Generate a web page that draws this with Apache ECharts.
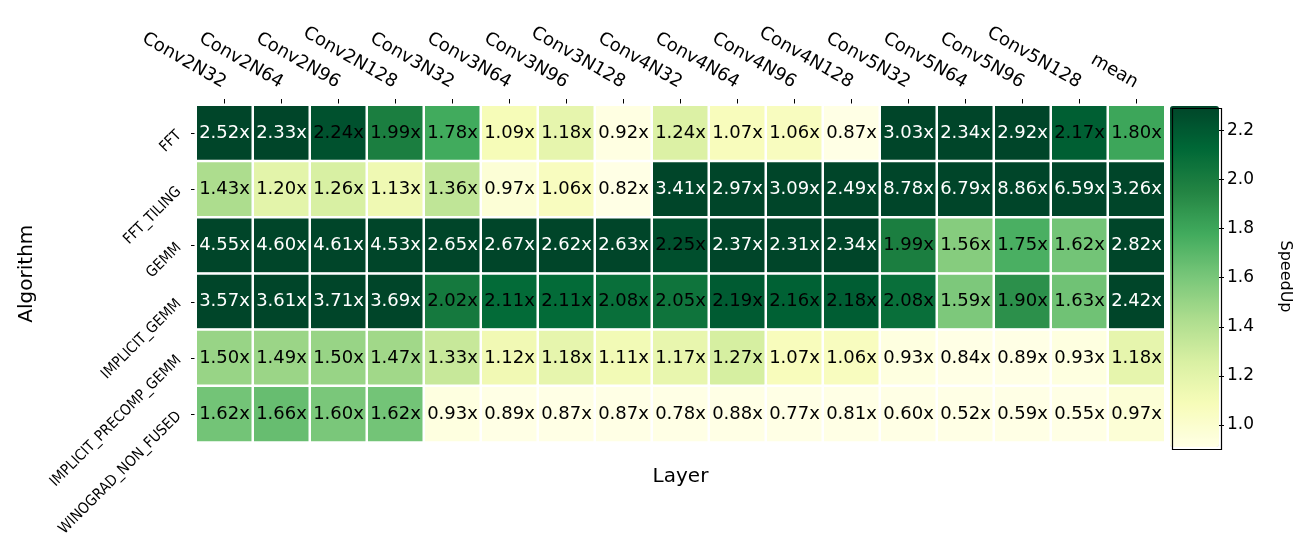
<!DOCTYPE html>
<html>
<head>
<meta charset="utf-8">
<title>SpeedUp heatmap</title>
<script src="https://cdn.jsdelivr.net/npm/echarts@6/dist/echarts.min.js"></script>
<style>
  html, body { margin: 0; padding: 0; background: #fff; }
  #chart { width: 1301px; height: 539px; }
</style>
</head>
<body>
<div id="chart"></div>
<script>
// Layers (columns) and algorithms (rows)
const layers = ['Conv2N32', 'Conv2N64', 'Conv2N96', 'Conv2N128',
  'Conv3N32', 'Conv3N64', 'Conv3N96', 'Conv3N128',
  'Conv4N32', 'Conv4N64', 'Conv4N96', 'Conv4N128',
  'Conv5N32', 'Conv5N64', 'Conv5N96', 'Conv5N128', 'mean'];
const algorithms = ['FFT', 'FFT_TILING', 'GEMM', 'IMPLICIT_GEMM',
  'IMPLICIT_PRECOMP_GEMM', 'WINOGRAD_NON_FUSED'];

// Speed-up per algorithm, one value per layer
const fft =                 [2.52, 2.33, 2.24, 1.99, 1.78, 1.09, 1.18, 0.92, 1.24, 1.07, 1.06, 0.87, 3.03, 2.34, 2.92, 2.17, 1.80];
const fftTiling =           [1.43, 1.20, 1.26, 1.13, 1.36, 0.97, 1.06, 0.82, 3.41, 2.97, 3.09, 2.49, 8.78, 6.79, 8.86, 6.59, 3.26];
const gemm =                [4.55, 4.60, 4.61, 4.53, 2.65, 2.67, 2.62, 2.63, 2.25, 2.37, 2.31, 2.34, 1.99, 1.56, 1.75, 1.62, 2.82];
const implicitGemm =        [3.57, 3.61, 3.71, 3.69, 2.02, 2.11, 2.11, 2.08, 2.05, 2.19, 2.16, 2.18, 2.08, 1.59, 1.90, 1.63, 2.42];
const implicitPrecompGemm = [1.50, 1.49, 1.50, 1.47, 1.33, 1.12, 1.18, 1.11, 1.17, 1.27, 1.07, 1.06, 0.93, 0.84, 0.89, 0.93, 1.18];
const winogradNonFused =    [1.62, 1.66, 1.60, 1.62, 0.93, 0.89, 0.87, 0.87, 0.78, 0.88, 0.77, 0.81, 0.60, 0.52, 0.59, 0.55, 0.97];

// Colour scale limits and colour bar ticks
const scaleMin = 0.91;
const scaleMax = 2.30;
const colorbarTicks = [1.0, 1.2, 1.4, 1.6, 1.8, 2.0, 2.2];

// YlGn colour map
const ylGn = ['#ffffe5', '#f7fcb9', '#d9f0a3', '#addd8e', '#78c679',
  '#41ab5d', '#238443', '#006837', '#004529'];

const rows = [fft, fftTiling, gemm, implicitGemm, implicitPrecompGemm, winogradNonFused];

const cells = [];
rows.forEach((vals, r) => {
  vals.forEach((v, c) => {
    cells.push({
      value: [c, r, v],
      label: { color: v > scaleMax ? '#ffffff' : '#000000' }
    });
  });
});

const FONT = 'DejaVu Sans';
const chart = echarts.init(document.getElementById('chart'), null, { renderer: 'canvas' });

chart.setOption({
  backgroundColor: '#ffffff',
  animation: false,
  textStyle: { fontFamily: FONT },
  grid: [
    { left: 196, top: 105, width: 969, height: 340 },
    { left: 1170, top: 106, width: 49, height: 341 }
  ],
  xAxis: [
    {
      type: 'category', gridIndex: 0, data: layers, position: 'top',
      axisLine: { show: false },
      axisTick: { show: true, alignWithLabel: true, length: 6, lineStyle: { color: '#000' } },
      axisLabel: { rotate: 30, fontSize: 18, color: '#000', margin: 21, fontFamily: FONT },
      splitLine: { show: false }
    },
    {
      type: 'category', gridIndex: 0, data: layers, position: 'bottom',
      axisLine: { show: false }, axisTick: { show: false }, axisLabel: { show: false },
      name: 'Layer', nameLocation: 'middle', nameGap: 24,
      nameTextStyle: { fontSize: 20, color: '#000', fontFamily: FONT }
    },
    {
      type: 'category', gridIndex: 1, data: ['bar'], show: false
    }
  ],
  yAxis: [
    {
      type: 'category', gridIndex: 0, data: algorithms, inverse: true,
      axisLine: { show: false },
      axisTick: { show: true, alignWithLabel: true, length: 5, lineStyle: { color: '#000' } },
      axisLabel: {
        rotate: 45, fontSize: 15, color: '#000', margin: 17,
        fontFamily: '"DejaVu Sans Condensed", "DejaVu Sans"'
      },
      name: 'Algorithm', nameLocation: 'middle', nameGap: 159, nameRotate: 90,
      nameTextStyle: { fontSize: 20, color: '#000', fontFamily: FONT }
    },
    {
      type: 'value', gridIndex: 1, position: 'right', min: scaleMin, max: scaleMax,
      axisLine: { show: false },
      splitLine: { show: false },
      axisTick: { show: true, length: 5, customValues: colorbarTicks, lineStyle: { color: '#000' } },
      axisLabel: {
        customValues: colorbarTicks, fontSize: 17, color: '#000', margin: 8,
        formatter: v => v.toFixed(1), fontFamily: FONT
      },
      name: 'SpeedUp', nameLocation: 'middle', nameGap: 58, nameRotate: -90,
      nameTextStyle: { fontSize: 16, color: '#000', fontFamily: FONT }
    }
  ],
  visualMap: {
    type: 'continuous',
    seriesIndex: 0,
    min: scaleMin, max: scaleMax,
    orient: 'vertical',
    left: 1170, top: 106,
    itemWidth: 49, itemHeight: 341,
    padding: 0,
    calculable: false,
    hoverLink: false,
    inRange: { color: ylGn }
  },
  graphic: [
    {
      type: 'rect', left: 1170, top: 106, z: 100,
      shape: { width: 49, height: 341 },
      style: { fill: 'none', stroke: '#000', lineWidth: 1.2 }
    }
  ],
  series: [
    {
      type: 'heatmap',
      xAxisIndex: 0, yAxisIndex: 0,
      data: cells,
      itemStyle: { borderColor: '#ffffff', borderWidth: 2.5 },
      label: {
        show: true, fontSize: 18, fontFamily: FONT,
        formatter: p => p.value[2].toFixed(2) + 'x'
      },
      emphasis: { disabled: true }
    }
  ]
});
</script>
</body>
</html>
